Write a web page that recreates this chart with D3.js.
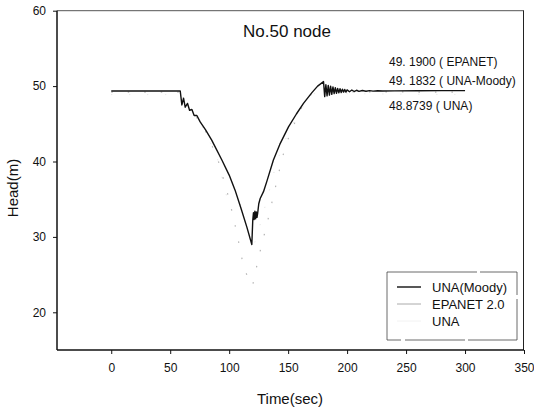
<!DOCTYPE html>
<html>
<head>
<meta charset="utf-8">
<script src="https://cdn.jsdelivr.net/npm/d3@7"></script>
<style>
  body { margin: 0; background: #fff; }
  svg { display: block; font-family: "Liberation Sans", Arial, sans-serif; }
</style>
</head>
<body>
<svg id="chart" width="534" height="407"></svg>
<script>
// UNA (Moody) - black line
const moodyTime = [0, 58.5, 59.9, 61.3, 62.7, 64.7, 66.4, 68.4, 70.3, 72.6, 75.4, 80, 85.3, 93.8, 100, 105, 110, 115, 119.2,
  120, 120.6, 121.2, 121.8, 122.4, 123, 123.6, 124.2, 125.1, 126.3, 129.1, 132, 137.5, 143, 150.3, 157, 163, 170, 175, 180,
  181, 182, 183, 184, 185, 186, 187, 188, 189, 190, 191, 192, 193, 194, 195, 196, 197, 198, 199, 200, 202, 204, 206, 208,
  210, 213, 216, 219, 222, 226, 230, 240, 260, 280, 300];
const moodyHead = [49.35, 49.35, 47.5, 48.4, 47.2, 47.7, 46.8, 46.9, 46.1, 46.1, 45.25, 44.2, 42.8, 40.2, 38.2, 36.2, 33.8, 31.3, 29.0,
  32.2, 33.2, 32.3, 33.4, 32.4, 33.3, 32.6, 33.2, 34.4, 35.1, 36.0, 37.4, 40.2, 42.3, 44.6, 46.3, 47.7, 49.1, 50.0, 50.6,
  48.6, 50.2, 48.7, 50.1, 48.8, 50.0, 48.9, 49.9, 49.0, 49.8, 49.05, 49.7, 49.1, 49.65, 49.15, 49.6, 49.2, 49.55, 49.2, 49.5,
  49.25, 49.48, 49.28, 49.45, 49.3, 49.42, 49.32, 49.4, 49.33, 49.38, 49.35, 49.37, 49.38, 49.4, 49.4];

// EPANET 2.0 - faint dotted grey line with the deeper dip
const epanetTime = [0, 58.5, 62, 70, 80, 90, 100, 106.5, 111, 113, 119.8, 124.3, 127, 132, 137.5, 145, 150, 160, 170, 178, 180, 190, 200, 300];
const epanetHead = [49.19, 49.19, 48.0, 46.4, 44.0, 40.5, 35.0, 30.5, 27.0, 25.6, 23.5, 26.8, 28.6, 31.7, 35.4, 40.5, 43.0, 46.8, 49.0, 50.3, 50.4, 49.4, 49.25, 49.19];

// UNA - very faint line close to the others
const unaTime = [0, 58.5, 70, 80, 90, 98, 105, 110.8, 115, 120, 126, 133, 140, 150, 160, 170, 180, 200, 300];
const unaHead = [48.87, 48.87, 46.3, 43.9, 40.4, 35.3, 34.6, 34.2, 31.0, 28.4, 31.5, 35.5, 39.8, 43.8, 46.7, 48.7, 50.0, 49.0, 48.87];

const xTicks = [0, 50, 100, 150, 200, 250, 300, 350];
const yTicks = [20, 30, 40, 50, 60];
const notes = ["49. 1900 ( EPANET)", "49. 1832 ( UNA-Moody)", "48.8739 ( UNA)"];
const legendNames = ["UNA(Moody)", "EPANET 2.0", "UNA"];

const svg = d3.select("#chart");

const x = d3.scaleLinear().domain([-46, 350]).range([57, 524]);
const y = d3.scaleLinear().domain([15, 60]).range([350, 10.7]);

/**
 * AXES
 */
const xAxis = svg.append("g")
  .attr("transform", `translate(0,${y(15)})`)
  .call(d3.axisBottom(x).tickValues(xTicks).tickSize(4).tickPadding(9));
xAxis.select(".domain").remove();

const yAxis = svg.append("g")
  .attr("transform", `translate(${x(-46)},0)`)
  .call(d3.axisLeft(y).tickValues(yTicks).tickSize(4).tickPadding(7));
yAxis.select(".domain").remove();

svg.selectAll(".tick text")
  .attr("font-size", 12)
  .attr("font-family", "Liberation Sans, Arial, sans-serif")
  .attr("fill", "#111");
svg.selectAll(".tick line").attr("stroke", "#111");

// frame
svg.append("line").attr("x1", x(-46)).attr("x2", x(350)).attr("y1", y(60)).attr("y2", y(60))
  .attr("stroke", "#555").attr("stroke-width", 1);
svg.append("line").attr("x1", x(350) - 0.5).attr("x2", x(350) - 0.5).attr("y1", y(60)).attr("y2", y(15))
  .attr("stroke", "#222").attr("stroke-width", 1);
svg.append("line").attr("x1", x(-46)).attr("x2", x(350)).attr("y1", y(15)).attr("y2", y(15))
  .attr("stroke", "#111").attr("stroke-width", 1.5);
svg.append("line").attr("x1", x(-46)).attr("x2", x(-46)).attr("y1", y(60)).attr("y2", y(15))
  .attr("stroke", "#111").attr("stroke-width", 1.5);

/**
 * LINES
 */
const line = d3.line().x(d => x(d[0])).y(d => y(d[1]));

svg.append("path")
  .datum(unaTime.map((t, i) => [t, unaHead[i]]))
  .attr("fill", "none").attr("stroke", "#e2e2e2").attr("stroke-width", 1)
  .attr("stroke-dasharray", "1,17")
  .attr("d", line);

svg.append("path")
  .datum(epanetTime.map((t, i) => [t, epanetHead[i]]))
  .attr("fill", "none").attr("stroke", "#b5b5b5").attr("stroke-width", 1.2)
  .attr("stroke-dasharray", "1.5,15")
  .attr("d", line);

svg.append("path")
  .datum(moodyTime.map((t, i) => [t, moodyHead[i]]))
  .attr("fill", "none").attr("stroke", "#111").attr("stroke-width", 1.4)
  .attr("stroke-linejoin", "round")
  .attr("d", line);

/**
 * TEXT
 */
svg.append("text").attr("x", 287).attr("y", 37).attr("text-anchor", "middle")
  .attr("font-size", 17).attr("fill", "#111").text("No.50 node");

svg.selectAll(".note").data(notes).enter().append("text")
  .attr("class", "note")
  .attr("x", 389).attr("y", (d, i) => [66, 85, 110][i])
  .attr("font-size", 12).attr("fill", "#111")
  .text(d => d);

svg.append("text").attr("x", 290).attr("y", 404).attr("text-anchor", "middle")
  .attr("font-size", 15).attr("fill", "#111").text("Time(sec)");

svg.append("text").attr("transform", "translate(18,188) rotate(-90)").attr("text-anchor", "middle")
  .attr("font-size", 15).attr("fill", "#111").text("Head(m)");

/**
 * LEGEND
 */
const legend = svg.append("g");
legend.append("rect").attr("x", 387).attr("y", 272).attr("width", 130).attr("height", 68)
  .attr("fill", "none").attr("stroke", "#444").attr("stroke-width", 0.8)
  .attr("stroke-dasharray", "90,3,60,4");

const legendColors = ["#111", "#aaa", "#f2f2f2"];
legendNames.forEach((name, i) => {
  const ly = 287 + i * 17;
  legend.append("line").attr("x1", 397).attr("x2", 421).attr("y1", ly).attr("y2", ly)
    .attr("stroke", legendColors[i]).attr("stroke-width", i === 0 ? 1.4 : 1);
  legend.append("text").attr("x", 432).attr("y", ly + 5)
    .attr("font-size", 13).attr("fill", "#111").text(name);
});
</script>
</body>
</html>
